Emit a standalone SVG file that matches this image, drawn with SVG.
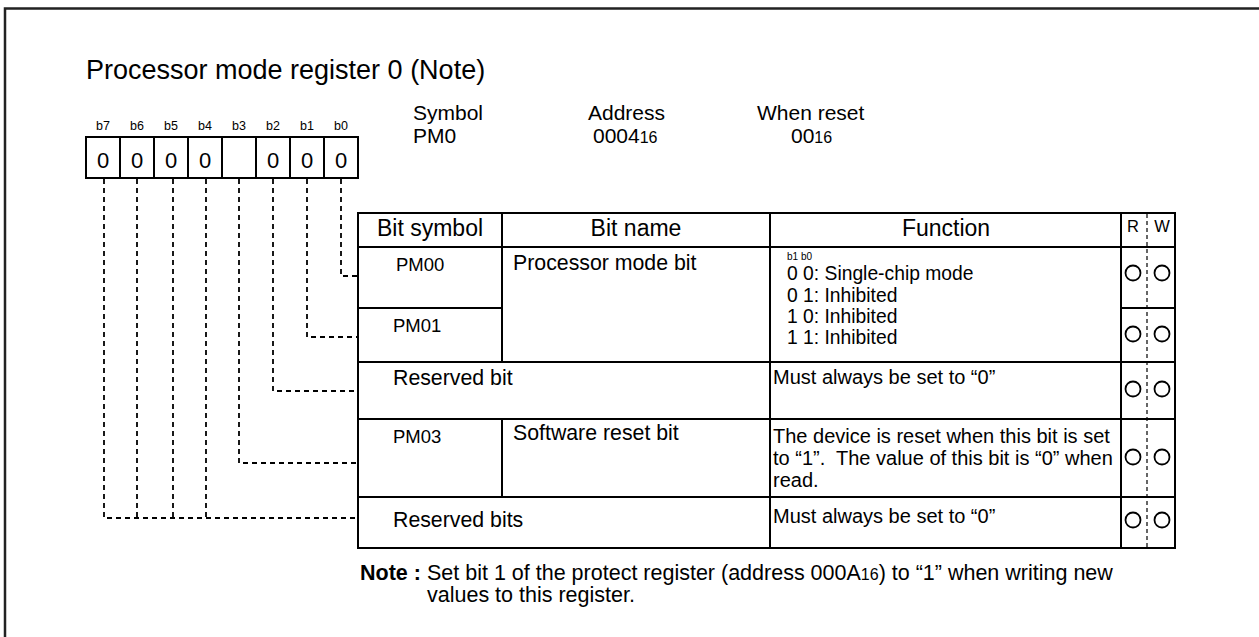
<svg xmlns="http://www.w3.org/2000/svg" width="1259" height="637" viewBox="0 0 1259 637">
<style>
text{font-family:"Liberation Sans",Arial,Helvetica,sans-serif;fill:#000}
.title{font-size:27px}
.hd{font-size:21px}
.sub{font-size:16px}
.bl{font-size:12.5px}
.dg{font-size:22px;text-anchor:middle}
.th{font-size:23px;text-anchor:middle}
.sym{font-size:18.5px}
.nm{font-size:21.3px}
.fn{font-size:19.3px}
.fn2{font-size:20px}
.tiny{font-size:10px}
.rw{font-size:16.5px;text-anchor:middle}
.note{font-size:21.5px}
.box{fill:none;stroke:#000;stroke-width:2}
.ln{stroke:#000;stroke-width:2;fill:none}
.dash{stroke:#000;stroke-width:1.8;fill:none;stroke-dasharray:5 4}
.rwd{stroke:#000;stroke-width:1.2;fill:none;stroke-dasharray:4 3}
.ok{fill:none;stroke:#000;stroke-width:1.8}
</style>
<rect width="1259" height="637" fill="#fff"/>
<g id="frame">
<path d="M5 637 V8.5 H1259" fill="none" stroke="#222" stroke-width="2.5"/>
</g>
<g id="title">
<text class="title" x="86" y="79">Processor mode register 0 (Note)</text>
</g>
<g id="register-info">
<text class="hd" x="413" y="120">Symbol</text>
<text class="hd" x="413" y="143">PM0</text>
<text class="hd" x="588" y="120">Address</text>
<text class="hd" x="593" y="143">0004<tspan class="sub">16</tspan></text>
<text class="hd" x="757" y="120">When reset</text>
<text class="hd" x="791" y="143">00<tspan class="sub">16</tspan></text>
</g>
<g id="bit-boxes">
<text class="bl" x="103" y="130" text-anchor="middle">b7</text>
<text class="bl" x="137" y="130" text-anchor="middle">b6</text>
<text class="bl" x="171" y="130" text-anchor="middle">b5</text>
<text class="bl" x="205" y="130" text-anchor="middle">b4</text>
<text class="bl" x="239" y="130" text-anchor="middle">b3</text>
<text class="bl" x="273" y="130" text-anchor="middle">b2</text>
<text class="bl" x="307" y="130" text-anchor="middle">b1</text>
<text class="bl" x="341" y="130" text-anchor="middle">b0</text>
<rect class="box" x="86" y="137" width="272" height="41"/>
<path class="ln" d="M120 137V178M154 137V178M188 137V178M222 137V178M256 137V178M290 137V178M324 137V178"/>
<text class="dg" x="103" y="168">0</text>
<text class="dg" x="137" y="168">0</text>
<text class="dg" x="171" y="168">0</text>
<text class="dg" x="205" y="168">0</text>
<text class="dg" x="273" y="168">0</text>
<text class="dg" x="307" y="168">0</text>
<text class="dg" x="341" y="168">0</text>
</g>
<g id="connectors">
<path class="dash" d="M341 179V276H358"/>
<path class="dash" d="M307 179V337H358"/>
<path class="dash" d="M273 179V391H358"/>
<path class="dash" d="M239 179V463H358"/>
<path class="dash" d="M206 179V518"/>
<path class="dash" d="M173 179V518"/>
<path class="dash" d="M137 179V518"/>
<path class="dash" d="M104 179V518H358"/>
</g>
<g id="table">
<rect class="box" x="358" y="213" width="817" height="335"/>
<path class="ln" d="M358 247H1175M358 362H1175M358 419H1175M358 497H1175"/>
<path class="ln" d="M358 308H502M1121 308H1175"/>
<path class="ln" d="M502 213V362M502 419V497M770 213V548M1121 213V548"/>
<path class="rwd" d="M1147 214V548"/>
<text class="th" x="430" y="236">Bit symbol</text>
<text class="th" x="636" y="236">Bit name</text>
<text class="th" x="946" y="236">Function</text>
<text class="rw" x="1133" y="232">R</text>
<text class="rw" x="1162" y="232">W</text>
</g>
<g id="row-pm00">
<text class="sym" x="396" y="271">PM00</text>
<text class="nm" x="513" y="270">Processor mode bit</text>
<text class="tiny" x="787" y="260">b1 b0</text>
<text class="fn" x="787" y="280">0 0: Single-chip mode</text>
<text class="fn" x="787" y="302">0 1: Inhibited</text>
<circle class="ok" cx="1133" cy="273" r="7.5"/>
<circle class="ok" cx="1162" cy="273" r="7.5"/>
</g>
<g id="row-pm01">
<text class="sym" x="393" y="332">PM01</text>
<text class="fn" x="787" y="323">1 0: Inhibited</text>
<text class="fn" x="787" y="344">1 1: Inhibited</text>
<circle class="ok" cx="1133" cy="334" r="7.5"/>
<circle class="ok" cx="1162" cy="334" r="7.5"/>
</g>
<g id="row-reserved-bit">
<text class="nm" x="393" y="385">Reserved bit</text>
<text class="fn2" x="773" y="384">Must always be set to “0”</text>
<circle class="ok" cx="1133" cy="389" r="7.5"/>
<circle class="ok" cx="1162" cy="389" r="7.5"/>
</g>
<g id="row-pm03">
<text class="sym" x="393" y="443">PM03</text>
<text class="nm" x="513" y="440">Software reset bit</text>
<text class="fn2" x="773" y="443">The device is reset when this bit is set</text>
<text class="fn2" x="773" y="465">to “1”.&#160; The value of this bit is “0” when</text>
<text class="fn2" x="773" y="487">read.</text>
<circle class="ok" cx="1133" cy="457" r="7.5"/>
<circle class="ok" cx="1162" cy="457" r="7.5"/>
</g>
<g id="row-reserved-bits">
<text class="nm" x="393" y="527">Reserved bits</text>
<text class="fn2" x="773" y="523">Must always be set to “0”</text>
<circle class="ok" cx="1133" cy="520" r="7.5"/>
<circle class="ok" cx="1162" cy="520" r="7.5"/>
</g>
<g id="note">
<text class="note" x="360" y="580" font-weight="bold">Note :</text>
<text class="note" x="427" y="580">Set bit 1 of the protect register (address 000A<tspan class="sub">16</tspan>) to “1” when writing new</text>
<text class="note" x="427" y="602">values to this register.</text>
</g>
</svg>
